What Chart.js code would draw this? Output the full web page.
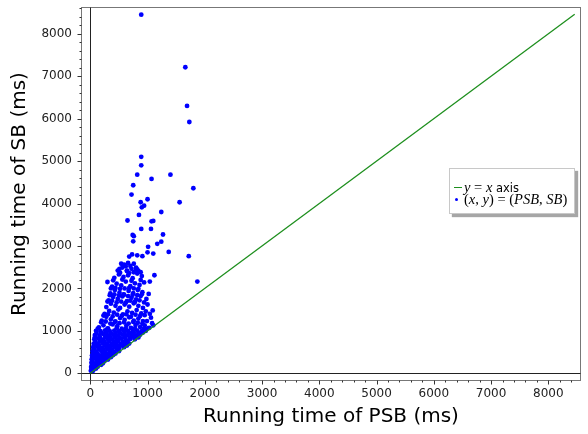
<!DOCTYPE html>
<html>
<head>
<meta charset="utf-8">
<title>PSB vs SB running time</title>
<script src="https://cdn.jsdelivr.net/npm/chart.js@4.4.1/dist/chart.umd.min.js"></script>
<style>
  html, body { margin: 0; padding: 0; background: #fff; }
  #wrap { position: relative; width: 588px; height: 434px; }
  #legend {
    position: absolute; left: 449px; top: 168px; width: 126px; height: 46px;
    box-sizing: border-box; border: 1px solid #c8c8c8; background: #fff;
    box-shadow: 3px 3px 1px rgba(0, 0, 0, 0.35);
    font-family: "DejaVu Sans", sans-serif; font-size: 11.5px; color: #000;
  }
  .row { position: absolute; left: 0; height: 12px; line-height: 12px; white-space: nowrap; }
  .dash { position: absolute; left: 4px; top: 6px; width: 8px; height: 1.4px; background: #1e8f1e; }
  .dot { position: absolute; left: 5px; top: 4.5px; width: 3.4px; height: 3.4px; border-radius: 50%; background: #0000ff; }
  .txt { position: absolute; left: 14px; top: 0; }
  .m { font-family: "Liberation Serif", serif; font-size: 14.5px; }
  .m i { font-style: italic; }
</style>
</head>
<body>
<div id="wrap">
  <canvas id="chart" width="588" height="434"></canvas>
  <div id="legend">
    <div class="row" style="top:12px"><span class="dash"></span><span class="txt"><span class="m"><i>y</i> = <i>x</i></span> axis</span></div>
    <div class="row" style="top:24px"><span class="dot"></span><span class="txt m">(<i>x</i>, <i>y</i>) = (<i>PSB</i>, <i>SB</i>)</span></div>
  </div>
</div>
<script>
// axis ticks (ms)
const xTickValues = [0, 1000, 2000, 3000, 4000, 5000, 6000, 7000, 8000];
const yTickValues = [0, 1000, 2000, 3000, 4000, 5000, 6000, 7000, 8000];

// reference line y = x
const refLineX = [0, 8460];
const refLineY = [0, 8460];

// [PSB ms, SB ms]
const denseLow = [
  [10, 60], [45, 55],
  [15, 150], [70, 140], [130, 155],
  [20, 250], [80, 230], [150, 245], [220, 235],
  [25, 330], [95, 340], [170, 320], [240, 335], [310, 325],
  [30, 420], [100, 430], [175, 410], [250, 425], [320, 415], [400, 430],
  [40, 520], [110, 500], [190, 530], [260, 510], [340, 525], [420, 505], [500, 520],
  [50, 610], [120, 630], [200, 600], [280, 620], [350, 605], [430, 625], [510, 600], [590, 615],
  [60, 700], [130, 690], [210, 715], [290, 700], [370, 690], [450, 710], [530, 695], [610, 705], [680, 700],
  [70, 800], [140, 820], [220, 790], [300, 810], [380, 800], [460, 785], [540, 815], [620, 795], [700, 810], [780, 800],
  [80, 900], [160, 890], [240, 915], [320, 895], [400, 905], [480, 890], [560, 910], [640, 895], [720, 905], [800, 895], [870, 905],
  [100, 1000], [180, 990], [260, 1010], [340, 995], [420, 1005], [500, 990], [580, 1010], [660, 1000], [740, 990], [820, 1005], [900, 990], [970, 1000],
  [30, 200], [110, 190], [190, 200],
  [60, 380], [140, 370], [210, 380], [285, 370], [360, 380],
  [75, 560], [150, 570], [230, 560], [300, 570], [380, 560], [460, 570],
  [90, 750], [170, 760], [250, 745], [330, 760], [410, 750], [490, 760], [570, 745], [650, 755],
  [110, 950], [200, 945], [280, 955], [360, 945], [440, 955], [520, 945], [600, 955], [680, 945], [760, 955], [840, 950], [920, 960]
];

const lowFill = [
  [20, 100], [60, 90], [100, 110], [40, 290], [120, 280], [180, 290], [250, 290],
  [50, 470], [130, 460], [215, 470], [290, 465], [360, 470], [440, 465],
  [65, 660], [160, 650], [245, 665], [320, 650], [400, 660], [480, 650], [560, 665], [640, 655],
  [80, 850], [170, 840], [260, 855], [350, 845], [430, 855], [510, 840], [600, 850], [690, 845], [760, 855], [840, 845],
  [130, 1050], [300, 1050], [460, 1060], [620, 1050], [780, 1055], [940, 1060]
];

const midBand = [
  [150, 1080], [230, 1130], [310, 1060], [390, 1150], [470, 1110], [550, 1050], [630, 1120], [710, 1070], [790, 1140], [870, 1090], [950, 1130], [1030, 1070],
  [200, 1240], [280, 1330], [360, 1270], [440, 1220], [520, 1300], [600, 1260], [680, 1320], [760, 1240], [840, 1290], [920, 1230], [1060, 1310],
  [250, 1400], [330, 1470], [410, 1430], [490, 1500], [570, 1390], [650, 1460], [730, 1420], [810, 1490], [890, 1410], [970, 1460], [1090, 1480],
  [280, 1560], [360, 1640], [440, 1590], [520, 1540], [600, 1620], [680, 1570], [760, 1650], [840, 1590], [920, 1540], [1000, 1620],
  [320, 1720], [400, 1800], [480, 1750], [560, 1810], [640, 1700], [720, 1780], [800, 1740], [880, 1820], [980, 1750],
  [350, 1880], [430, 1960], [510, 1900], [590, 1850], [670, 1940], [750, 1890], [830, 1960], [910, 1910], [1020, 1870],
  [300, 2150], [380, 2040], [460, 2110], [540, 2070], [620, 2160], [700, 2050], [780, 2120], [860, 2080], [940, 2140], [1040, 2160],
  [420, 2250], [500, 2330], [580, 2270], [660, 2310], [740, 2240], [820, 2350], [900, 2290],
  [480, 2420], [560, 2490], [640, 2410], [720, 2460], [800, 2440], [880, 2380],
  [590, 2560], [700, 2530], [760, 2580],
  [1000, 1060], [1080, 1180], [1100, 1130], [960, 1020]
];

const midFill = [
  [190, 1200], [270, 1220], [350, 1170], [430, 1210], [510, 1180], [590, 1200], [670, 1170], [750, 1210], [830, 1190], [910, 1170], [990, 1230],
  [230, 1360], [310, 1390], [390, 1340], [470, 1380], [550, 1350], [630, 1390], [710, 1330], [790, 1380], [870, 1350], [950, 1370], [1040, 1400],
  [300, 1690], [380, 1710], [460, 1670], [540, 1690], [620, 1660], [700, 1710], [780, 1680], [860, 1720], [940, 1670],
  [340, 1840], [420, 1860], [500, 1830], [580, 1860], [660, 1820], [740, 1850], [820, 1840], [900, 1860],
  [360, 2000], [440, 2010], [520, 1990], [600, 2000], [680, 2010], [760, 2000], [840, 1990],
  [400, 2190], [560, 2210], [720, 2180], [880, 2200],
  [520, 2370], [680, 2360], [760, 2380], [620, 2520], [540, 2580], [660, 2600]
];

const outliers = [
  [890, 8450], [1660, 7210], [1690, 6300], [1730, 5920], [890, 5100], [890, 4900],
  [820, 4680], [1070, 4580], [1400, 4680], [750, 4430], [1800, 4360], [720, 4210],
  [1000, 4100], [880, 4030], [1560, 4030], [940, 3950], [900, 3910], [1240, 3800],
  [850, 3730], [650, 3600], [1070, 3580], [1100, 3590], [890, 3400], [1060, 3400],
  [1270, 3270], [740, 3260], [760, 3230], [750, 3110], [1240, 3100], [1170, 3050],
  [1010, 2980], [1370, 2860], [1000, 2850], [1100, 2820], [730, 2800], [680, 2750],
  [820, 2780], [910, 2760], [1720, 2760], [590, 2550], [510, 2460], [640, 2420],
  [800, 2490], [820, 2450], [840, 2410], [1120, 2310], [1870, 2160]
];

const X_MIN = -162;
const X_MAX = 8570;
const Y_MIN = -182;
const Y_MAX = 8630;

const GREEN = "#1e8f1e";
const BLUE = "#0000ff";

Chart.defaults.font.family = "'DejaVu Sans', sans-serif";

function toPoints(pairs) {
  return pairs.map(([x, y]) => ({ x, y }));
}

// frame, zero axes and matplotlib-like ticks
const sageFrame = {
  id: "sageFrame",
  beforeDatasetsDraw(chart) {
    const { ctx, chartArea: a, scales } = chart;
    const sx = scales.x;
    const sy = scales.y;
    const L = Math.round(a.left) + 0.5;
    const R = Math.round(a.right) - 0.5;
    const T = Math.round(a.top) + 0.5;
    const B = Math.round(a.bottom) - 0.5;
    ctx.save();
    ctx.lineWidth = 1;

    ctx.strokeStyle = "#777";
    ctx.strokeRect(L, T, R - L, B - T);

    // ticks
    ctx.strokeStyle = "#333";
    ctx.beginPath();
    for (let v = 0; v <= X_MAX; v += 200) {
      const px = Math.round(sx.getPixelForValue(v)) + 0.5;
      const len = v % 1000 === 0 ? 4 : 2;
      ctx.moveTo(px, B);
      ctx.lineTo(px, B + len);
    }
    for (let v = 0; v <= Y_MAX; v += 200) {
      const py = Math.round(sy.getPixelForValue(v)) + 0.5;
      const len = v % 1000 === 0 ? 4 : 2;
      ctx.moveTo(L, py);
      ctx.lineTo(L - len, py);
    }
    ctx.stroke();

    // axes through the origin
    const x0 = Math.round(sx.getPixelForValue(0)) + 0.5;
    const y0 = Math.round(sy.getPixelForValue(0)) + 0.5;
    ctx.strokeStyle = "#222";
    ctx.beginPath();
    ctx.moveTo(x0, T);
    ctx.lineTo(x0, B);
    ctx.moveTo(L, y0);
    ctx.lineTo(R, y0);
    ctx.stroke();
    ctx.restore();
  },
};

const tickFont = { size: 12, family: "'DejaVu Sans', sans-serif" };
const titleFont = { size: 20, family: "'DejaVu Sans', sans-serif" };

new Chart(document.getElementById("chart"), {
  type: "scatter",
  data: {
    datasets: [
      {
        label: "y = x axis",
        data: refLineX.map((x, i) => ({ x, y: refLineY[i] })),
        showLine: true,
        borderColor: GREEN,
        backgroundColor: GREEN,
        borderWidth: 1.3,
        pointRadius: 0,
      },
      {
        label: "(x, y) = (PSB, SB)",
        data: toPoints([...denseLow, ...lowFill, ...midBand, ...midFill, ...outliers]),
        backgroundColor: BLUE,
        borderColor: BLUE,
        borderWidth: 0,
        pointRadius: 2.4,
      },
    ],
  },
  options: {
    responsive: false,
    animation: false,
    devicePixelRatio: 1,
    layout: { padding: { top: 7, right: 7, left: 0, bottom: 0 } },
    plugins: { legend: { display: false }, tooltip: { enabled: false } },
    scales: {
      x: {
        type: "linear",
        min: X_MIN,
        max: X_MAX,
        afterBuildTicks(s) { s.ticks = xTickValues.map((v) => ({ value: v })); },
        afterFit(s) {
          s.height = 53;
          s.paddingLeft = 0;
          s.paddingRight = 0;
        },
        grid: { display: false, drawTicks: false },
        border: { display: false },
        ticks: {
          autoSkip: false,
          maxRotation: 0,
          padding: 6,
          color: "#222",
          font: tickFont,
          callback(v) { return String(v); },
        },
        title: {
          display: true,
          text: "Running time of PSB (ms)",
          color: "#000",
          font: titleFont,
          padding: { top: 0, bottom: 5 },
        },
      },
      y: {
        type: "linear",
        min: Y_MIN,
        max: Y_MAX,
        afterBuildTicks(s) { s.ticks = yTickValues.map((v) => ({ value: v })); },
        afterFit(s) {
          s.width = 81;
          s.paddingTop = 0;
          s.paddingBottom = 0;
        },
        grid: { display: false, drawTicks: false },
        border: { display: false },
        ticks: {
          autoSkip: false,
          padding: 9,
          color: "#222",
          font: tickFont,
          callback(v) { return String(v); },
        },
        title: {
          display: true,
          text: "Running time of SB (ms)",
          color: "#000",
          font: titleFont,
          padding: { top: 8, bottom: 0 },
        },
      },
    },
  },
  plugins: [sageFrame],
});
</script>
</body>
</html>
